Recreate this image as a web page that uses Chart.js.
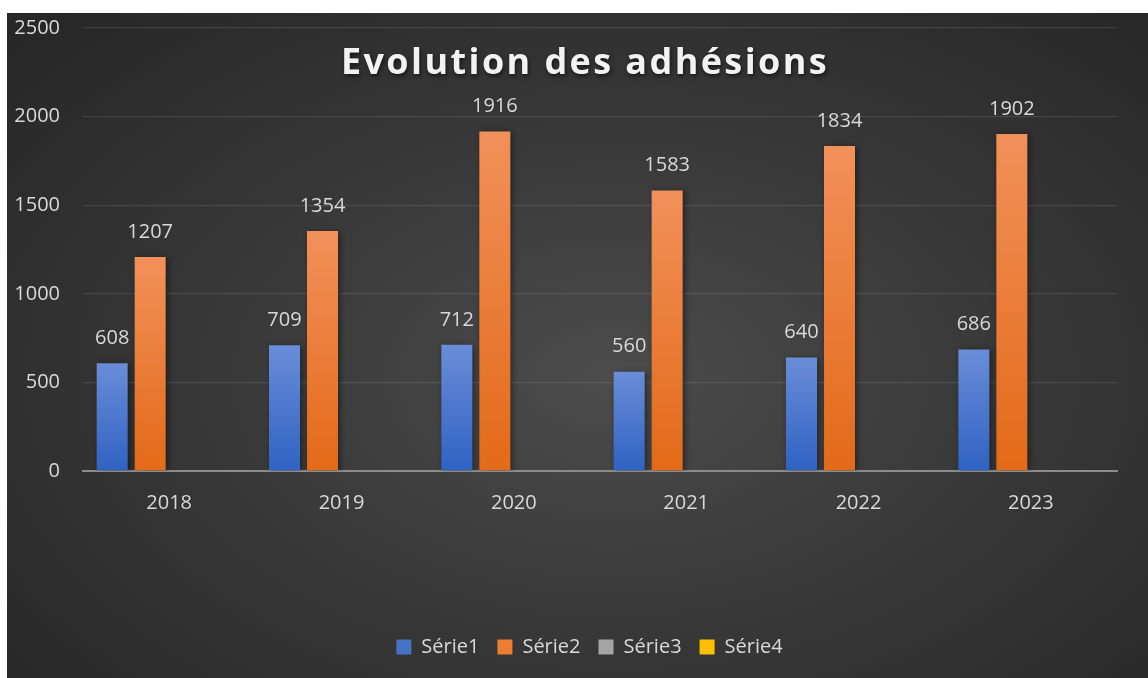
<!DOCTYPE html>
<html lang="fr">
<head>
    <meta charset="UTF-8">
    <title>Evolution des adhésions</title>
    <style>
        html, body {
            margin: 0;
            padding: 0;
            background-color: #fff;
        }
        .chart-box {
            position: absolute;
            left: 7px;
            top: 13px;
            width: 1141px;
            height: 665px;
            background: radial-gradient(ellipse 70% 75% at 53% 55%, #4c4c4c 0%, #3a3a3a 45%, #272727 100%);
        }
    </style>
</head>
<body>

<div class="chart-box">
    <canvas id="adhesionsChart" width="1141" height="665"></canvas>
</div>

<script src="https://cdn.jsdelivr.net/npm/chart.js"></script>
<script>
    const years = ['2018', '2019', '2020', '2021', '2022', '2023'];
    const serie1 = [608, 709, 712, 560, 640, 686];
    const serie2 = [1207, 1354, 1916, 1583, 1834, 1902];
    const serie3 = [null, null, null, null, null, null];
    const serie4 = [null, null, null, null, null, null];
    const yTicks = [0, 500, 1000, 1500, 2000, 2500];

    const textColor = '#d9d9d9';
    const tickFont = { family: 'Open Sans', size: 20 };

    // per-bar vertical gradient, light at the top
    function barGradient(light, dark, solid) {
        return function(ctx) {
            const chart = ctx.chart;
            if (!chart.chartArea || ctx.raw == null) return solid;
            const y = chart.scales.y;
            const top = y.getPixelForValue(ctx.raw);
            const bottom = y.getPixelForValue(0);
            const g = chart.ctx.createLinearGradient(0, top, 0, bottom);
            g.addColorStop(0, light);
            g.addColorStop(1, dark);
            return g;
        };
    }

    const legendColors = ['#4472c4', '#ed7d31', '#a5a5a5', '#ffc000'];

    const valueLabels = {
        id: 'valueLabels',
        afterDatasetsDraw(chart) {
            const ctx = chart.ctx;
            ctx.save();
            ctx.font = '20px "Open Sans"';
            ctx.fillStyle = textColor;
            ctx.textAlign = 'center';
            ctx.textBaseline = 'middle';
            chart.data.datasets.forEach((ds, i) => {
                const meta = chart.getDatasetMeta(i);
                meta.data.forEach((bar, j) => {
                    if (ds.data[j] == null) return;
                    ctx.fillText(ds.data[j], bar.x, bar.y - 25);
                });
            });
            ctx.restore();
        }
    };

    const barShadow = {
        id: 'barShadow',
        beforeDatasetDraw(chart) {
            const ctx = chart.ctx;
            ctx.save();
            ctx.shadowColor = 'rgba(0, 0, 0, 0.45)';
            ctx.shadowBlur = 6;
            ctx.shadowOffsetX = 2;
            ctx.shadowOffsetY = 1;
        },
        afterDatasetDraw(chart) {
            chart.ctx.restore();
        }
    };

    // the legend sits a bit right of the canvas centre in the original
    const legendShift = {
        id: 'legendShift',
        afterLayout(chart) {
            chart.legend.left += 24;
            chart.legend.right += 24;
        }
    };

    const overlayTitle = {
        id: 'overlayTitle',
        afterDraw(chart) {
            const ctx = chart.ctx;
            ctx.save();
            ctx.font = 'bold 36px "Open Sans"';
            ctx.letterSpacing = '2.4px';
            ctx.fillStyle = '#f2f2f2';
            ctx.textAlign = 'center';
            ctx.textBaseline = 'alphabetic';
            ctx.shadowColor = 'rgba(0, 0, 0, 0.6)';
            ctx.shadowBlur = 4;
            ctx.shadowOffsetX = 1;
            ctx.shadowOffsetY = 2;
            ctx.fillText('Evolution des adhésions', 578, 61);
            ctx.restore();
        }
    };

    const config = {
        type: 'bar',
        data: {
            labels: years,
            datasets: [
                { label: 'Série1', data: serie1, backgroundColor: barGradient('#6a8dd8', '#2f62c2', legendColors[0]) },
                { label: 'Série2', data: serie2, backgroundColor: barGradient('#f2905a', '#e36a18', legendColors[1]) },
                { label: 'Série3', data: serie3, backgroundColor: legendColors[2] },
                { label: 'Série4', data: serie4, backgroundColor: legendColors[3] }
            ]
        },
        options: {
            responsive: false,
            animation: false,
            categoryPercentage: 0.882,
            barPercentage: 0.816,
            layout: {
                padding: { left: 7, right: 31, top: 15, bottom: 11 }
            },
            scales: {
                x: {
                    grid: { display: false },
                    border: { color: '#8c8c8c', width: 2 },
                    ticks: { color: textColor, font: tickFont, padding: 12 },
                    afterFit(axis) {
                        axis.height = 148;
                        axis.paddingLeft = 0;
                        axis.paddingRight = 0;
                    }
                },
                y: {
                    min: 0,
                    max: 2500,
                    border: { display: false },
                    grid: { color: 'rgba(255, 255, 255, 0.1)', lineWidth: 1.3, drawTicks: false },
                    afterBuildTicks(axis) { axis.ticks = yTicks.map(v => ({ value: v })); },
                    ticks: { color: textColor, font: tickFont, padding: 23, callback: v => String(v) },
                    afterFit(axis) {
                        axis.width = 69;
                        axis.paddingTop = 0;
                        axis.paddingBottom = 0;
                    }
                }
            },
            plugins: {
                title: { display: false },
                tooltip: { enabled: false },
                legend: {
                    position: 'bottom',
                    labels: {
                        color: textColor,
                        font: tickFont,
                        boxWidth: 15,
                        boxHeight: 15,
                        padding: 18,
                        generateLabels(chart) {
                            return chart.data.datasets.map((ds, i) => ({
                                text: ds.label,
                                fillStyle: legendColors[i],
                                strokeStyle: legendColors[i],
                                lineWidth: 0,
                                fontColor: textColor,
                                datasetIndex: i
                            }));
                        }
                    }
                }
            }
        },
        plugins: [barShadow, valueLabels, overlayTitle, legendShift]
    };

    new Chart(document.getElementById('adhesionsChart').getContext('2d'), config);
</script>

</body>
</html>
